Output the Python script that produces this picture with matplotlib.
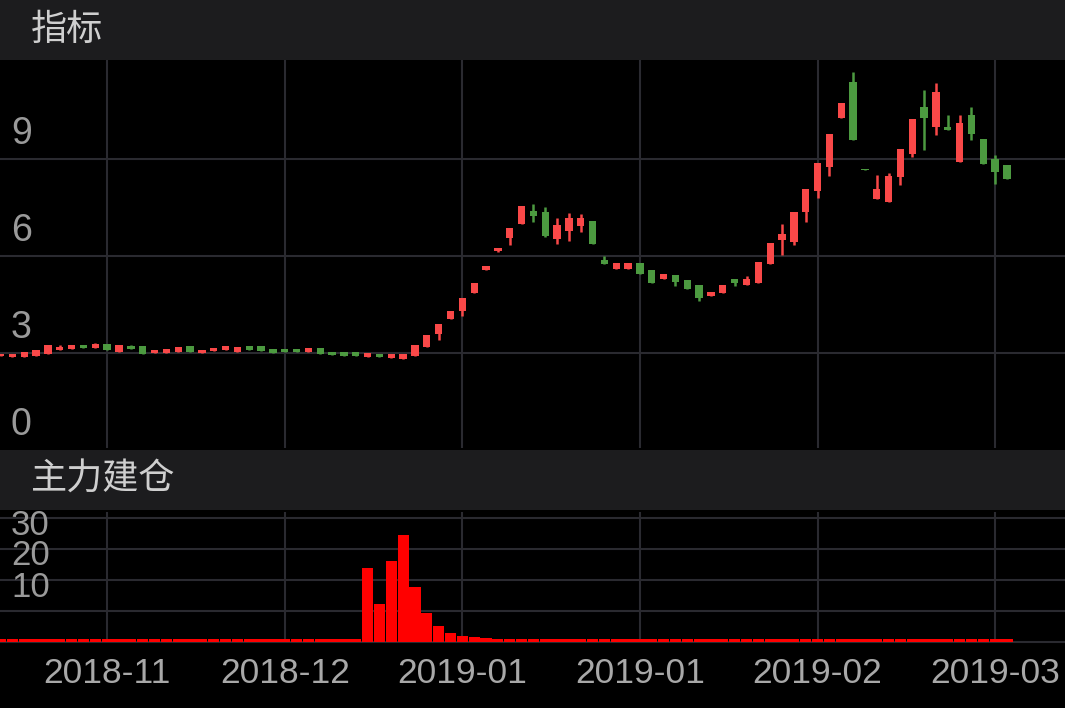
import matplotlib
matplotlib.use("Agg")
import matplotlib.pyplot as plt
import numpy as np

plt.rcParams['font.family'] = ['Liberation Sans', 'Noto Sans CJK SC', 'DejaVu Sans']

opens = [2.90,2.88,2.88,2.90,2.97,3.10,3.12,3.25,3.15,3.27,3.04,3.22,3.22,2.99,3.01,3.02,3.22,2.99,3.07,3.10,
         3.04,3.22,3.21,3.13,3.13,3.13,3.04,3.15,3.04,3.02,3.04,2.88,2.98,2.85,2.83,2.90,3.20,3.60,4.05,4.30,
         4.85,5.58,6.15,6.55,7.00,7.39,7.38,6.53,6.78,6.92,7.08,5.88,5.60,5.61,5.79,5.56,5.30,5.42,5.25,5.09,
         4.75,4.87,5.28,5.10,5.18,5.75,6.50,6.45,7.38,8.02,8.77,10.29,11.39,8.70,7.76,7.68,8.44,9.16,10.60,9.99,
         10.01,8.91,10.36,9.62,9.00,8.81]
closes = [2.97,2.98,3.02,3.08,3.24,3.20,3.24,3.15,3.27,3.08,3.24,3.13,2.98,3.10,3.12,3.20,3.02,3.10,3.17,3.22,
          3.18,3.08,3.06,3.01,3.02,3.04,3.15,2.97,2.94,2.92,2.90,2.99,2.87,2.98,2.96,3.24,3.56,3.90,4.30,4.71,
          5.17,5.70,6.25,6.87,7.56,7.25,6.63,6.97,7.18,7.18,6.38,5.74,5.78,5.78,5.45,5.18,5.46,5.21,4.98,4.69,
          4.88,5.09,5.16,5.30,5.82,6.40,6.69,7.35,8.07,8.87,9.78,10.75,9.60,8.65,8.09,8.49,9.33,10.25,10.27,11.09,
          9.91,10.11,9.78,8.85,8.60,8.38]
highs = [max(o, c) for o, c in zip(opens, closes)]
lows = [min(o, c) for o, c in zip(opens, closes)]
for i, h in {5: 3.26, 8: 3.30, 11: 3.26, 45: 7.62, 46: 7.51, 47: 7.19, 48: 7.33, 49: 7.31, 51: 5.99,
             62: 5.30, 63: 5.37, 66: 7.00, 72: 11.70, 74: 8.50, 75: 8.56, 78: 11.14, 79: 11.35, 80: 10.37,
             81: 10.37, 82: 10.63, 84: 9.13}.items():
    highs[i] = h
for i, l in {37: 3.41, 39: 4.15, 42: 6.12, 43: 6.35, 45: 7.07, 46: 6.58, 47: 6.37, 48: 6.47, 49: 6.76,
             57: 5.08, 59: 4.60, 62: 5.08, 66: 6.04, 67: 6.35, 68: 7.05, 69: 7.79, 70: 8.48, 76: 8.20,
             77: 9.08, 78: 9.29, 79: 9.76, 82: 9.58, 84: 8.24}.items():
    lows[i] = l

volume = [0.9] * 31 + [24, 12.4, 26, 34.4, 17.6, 9.3, 5.1, 3.0, 1.9, 1.5, 1.2, 1.0, 1.0] + [0.9] * 42
tick_idx = [9, 24, 39, 54, 69, 84]
tick_labels = ['2018-11', '2018-12', '2019-01', '2019-01', '2019-02', '2019-03']
price_ticks = [3, 6, 9]
vol_ticks = [10, 20, 30]

W, H = 1065, 708
fig = plt.figure(figsize=(W / 100, H / 100), dpi=100, facecolor='black')

def box(x0, y0, x1, y1):
    return [x0 / W, 1 - y1 / H, (x1 - x0) / W, (y1 - y0) / H]

RED = '#f94848'
GREEN = '#4c9a40'
GRID = '#2a2a30'
HEAD = '#1c1c1e'

for (y0, y1, title) in [(0, 60, '指标'), (450, 510, '主力建仓')]:
    hax = fig.add_axes(box(0, y0, W, y1))
    hax.set_facecolor(HEAD)
    hax.set_xticks([]); hax.set_yticks([])
    for s in hax.spines.values():
        s.set_visible(False)
    hax.text(31 / W, 0.5, title, transform=hax.transAxes, color='#cfcfcf', fontsize=26, va='center', ha='left',
             family=['Noto Sans CJK SC', 'DejaVu Sans'])

x = np.arange(len(opens))
xlim = (-0.05, 89.9)

ax = fig.add_axes(box(0, 60, W, 448))
ax.set_facecolor('black')
ax.set_xlim(*xlim)
ax.set_ylim(0.06, 12.07)
for s in ax.spines.values():
    s.set_visible(False)
ax.set_xticks(tick_idx); ax.set_xticklabels([])
ax.set_yticks(price_ticks); ax.set_yticklabels([])
ax.tick_params(length=0)
ax.grid(True, color=GRID, linewidth=1.5)
ax.set_axisbelow(True)
o = np.array(opens); c = np.array(closes)
colors = [RED if cc >= oo else GREEN for oo, cc in zip(o, c)]
bottom = np.minimum(o, c)
height = np.maximum(np.abs(c - o), 0.06)
ax.vlines(x, lows, highs, colors=colors, linewidth=1.8, zorder=3)
ax.bar(x, height, bottom=bottom, width=0.62, color=colors, zorder=4)
for v in price_ticks + [0]:
    ax.text(11 / W, v + 0.78, str(v), transform=ax.get_yaxis_transform(), color='#9a9a9a',
            fontsize=27, va='center', ha='left')

ax2 = fig.add_axes(box(0, 512, W, 642))
ax2.set_facecolor('black')
ax2.set_xlim(*xlim)
ax2.set_ylim(0, 41.9)
for s in ax2.spines.values():
    s.set_visible(False)
ax2.spines['bottom'].set_visible(True)
ax2.spines['bottom'].set_color(GRID)
ax2.spines['bottom'].set_linewidth(1.5)
ax2.set_yticks([10, 20, 30, 40]); ax2.set_yticklabels([])
ax2.set_xticks(tick_idx)
ax2.set_xticklabels(tick_labels, color='#a8a8a8', fontsize=25.5)
ax2.tick_params(length=0, pad=11)
ax2.grid(True, color=GRID, linewidth=1.5)
ax2.set_axisbelow(True)
ax2.bar(x, volume, width=0.95, color='#ff0000', zorder=3)
for v, yy in zip(vol_ticks, [17.7, 28.0, 37.7]):
    ax2.text(11 / W, yy, str(v), transform=ax2.get_yaxis_transform(), color='#9a9a9a',
             fontsize=25, va='center', ha='left')

fig.savefig('out.png', dpi=100, facecolor='black')
